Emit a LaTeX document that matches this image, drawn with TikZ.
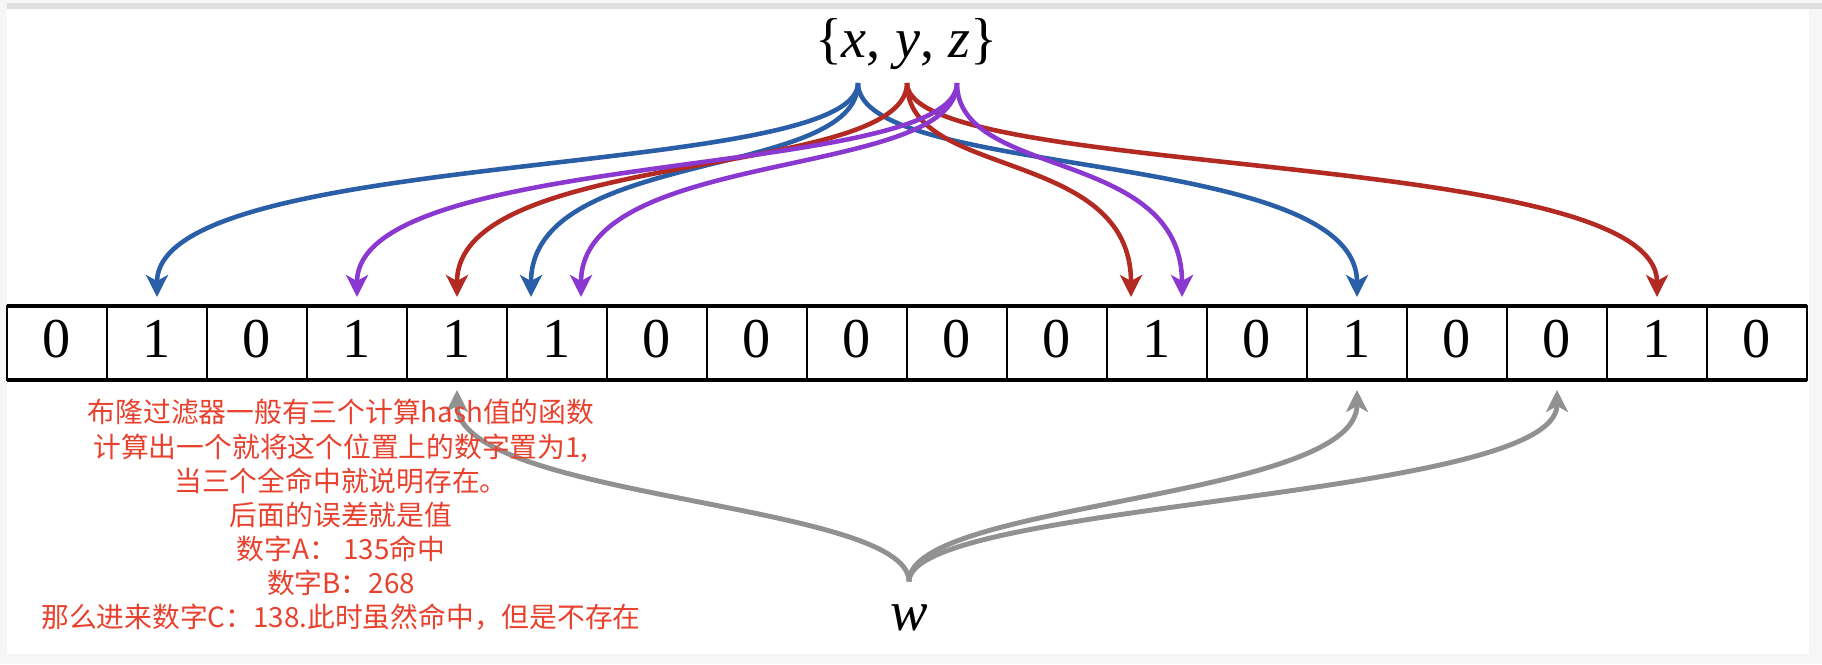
\documentclass[tikz,border=0pt]{standalone}
\usepackage{fontspec}
\setmainfont{Liberation Serif}
\newfontfamily\cjk{Noto Sans CJK SC}
\usepackage{tikz}
\usepackage{xcolor}
\usetikzlibrary{arrows.meta,positioning}
\definecolor{hash-blue}{RGB}{42,95,168}
\definecolor{hash-red}{RGB}{178,42,34}
\definecolor{hash-purple}{RGB}{138,56,207}
\definecolor{query-gray}{RGB}{145,145,145}
\definecolor{note-red}{RGB}{232,65,45}
\definecolor{frame-gray}{RGB}{246,246,246}
\definecolor{frame-line}{RGB}{222,222,222}
\tikzset{
    bit-cell/.style = {draw, line width=0.6pt, rectangle, minimum width=1cm, minimum height=0.74cm, inner sep=0pt, outer sep=0pt, text height=0.38cm, text depth=0.1cm, font=\fontsize{16}{19}\selectfont},
    bit-edge/.style = {line width=1.1pt},
    hash-arrow/.style = {line width=1.3pt, -{Stealth[length=0.22cm, width=0.22cm, inset=0.06cm]}},
    query-arrow/.style = {hash-arrow, query-gray, line width=1.4pt},
    note-text/.style = {align=center, text=note-red, font=\cjk\fontsize{7.9}{9.7}\selectfont},
}

\begin{document}
\begin{tikzpicture}
\useasboundingbox (0,0) rectangle (18.22,-6.64);
\fill[frame-gray] (0,0) rectangle (18.22,-6.64);
\fill[frame-line] (0.07,-0.03) rectangle (18.22,-0.09);
\fill[white] (0.07,-0.09) rectangle (18.09,-6.54);

% the bit array
\node[bit-cell] (c0) at (0.57,-3.43) {0};
\node[bit-cell, right=0pt of c0] (c1) {1};
\node[bit-cell, right=0pt of c1] (c2) {0};
\node[bit-cell, right=0pt of c2] (c3) {1};
\node[bit-cell, right=0pt of c3] (c4) {1};
\node[bit-cell, right=0pt of c4] (c5) {1};
\node[bit-cell, right=0pt of c5] (c6) {0};
\node[bit-cell, right=0pt of c6] (c7) {0};
\node[bit-cell, right=0pt of c7] (c8) {0};
\node[bit-cell, right=0pt of c8] (c9) {0};
\node[bit-cell, right=0pt of c9] (c10) {0};
\node[bit-cell, right=0pt of c10] (c11) {1};
\node[bit-cell, right=0pt of c11] (c12) {0};
\node[bit-cell, right=0pt of c12] (c13) {1};
\node[bit-cell, right=0pt of c13] (c14) {0};
\node[bit-cell, right=0pt of c14] (c15) {0};
\node[bit-cell, right=0pt of c15] (c16) {1};
\node[bit-cell, right=0pt of c16] (c17) {0};
\draw[bit-edge] (c0.north west) -- (c17.north east);
\draw[bit-edge] (c0.south west) -- (c17.south east);

% the set and its three hashes
\node[anchor=base, font=\fontsize{16}{19}\selectfont] (set) at (9.06,-0.57) {\{\textit{x}, \textit{y}, \textit{z}\}};
\coordinate (hx) at (8.58,-0.83);
\coordinate (hy) at (9.07,-0.83);
\coordinate (hz) at (9.57,-0.83);

\draw[hash-arrow, hash-blue] (hx) .. controls +(0,-0.97) and +(0,1.5) .. ([yshift=0.09cm]c1.north);
\draw[hash-arrow, hash-blue] (hx) .. controls +(0,-0.97) and +(0,1.5) .. ([xshift=-0.26cm, yshift=0.09cm]c5.north);
\draw[hash-arrow, hash-blue] (hx) .. controls +(0,-0.97) and +(0,1.5) .. ([yshift=0.09cm]c13.north);
\draw[hash-arrow, hash-red] (hy) .. controls +(0,-0.97) and +(0,1.5) .. ([yshift=0.09cm]c4.north);
\draw[hash-arrow, hash-red] (hy) .. controls +(0,-0.97) and +(0,1.5) .. ([xshift=-0.26cm, yshift=0.09cm]c11.north);
\draw[hash-arrow, hash-red] (hy) .. controls +(0,-0.97) and +(0,1.5) .. ([yshift=0.09cm]c16.north);
\draw[hash-arrow, hash-purple] (hz) .. controls +(0,-0.97) and +(0,1.5) .. ([yshift=0.09cm]c3.north);
\draw[hash-arrow, hash-purple] (hz) .. controls +(0,-0.97) and +(0,1.5) .. ([xshift=0.24cm, yshift=0.09cm]c5.north);
\draw[hash-arrow, hash-purple] (hz) .. controls +(0,-0.97) and +(0,1.5) .. ([xshift=0.25cm, yshift=0.09cm]c11.north);

% the query
\node[anchor=base, inner sep=0.22cm, font=\fontsize{16}{19}\selectfont] (w) at (9.09,-6.30) {\textit{w}};
\draw[query-arrow] (w.north) .. controls +(0,0.8) and +(0,-1.1) .. ([yshift=-0.1cm]c4.south);
\draw[query-arrow] (w.north) .. controls +(0,0.8) and +(0,-1.1) .. ([yshift=-0.1cm]c13.south);
\draw[query-arrow] (w.north) .. controls +(0,0.8) and +(0,-1.1) .. ([yshift=-0.1cm]c15.south);

\node[note-text] (note) at (3.41,-5.15) {布隆过滤器一般有三个计算hash值的函数\\计算出一个就将这个位置上的数字置为1,\\当三个全命中就说明存在。\\后面的误差就是值\\数字A： 135命中\\数字B：268\\那么进来数字C：138.此时虽然命中，但是不存在};
\end{tikzpicture}
\end{document}
